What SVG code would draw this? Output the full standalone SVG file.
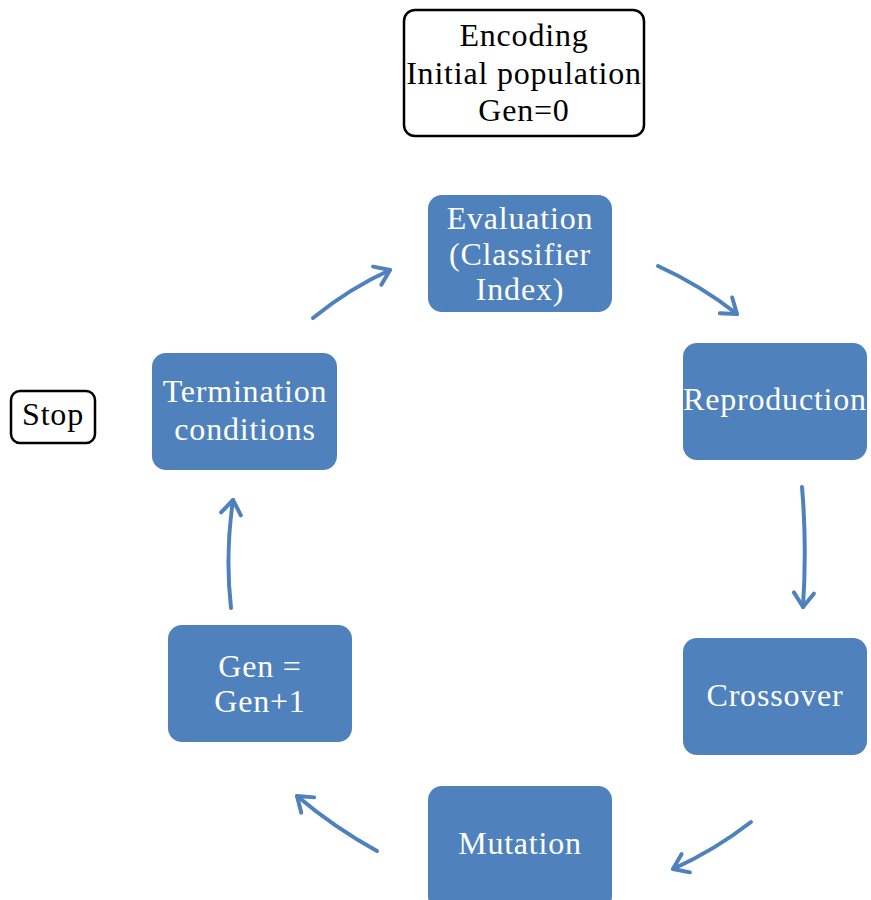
<svg xmlns="http://www.w3.org/2000/svg" width="871" height="900" viewBox="0 0 871 900">
<style>
.b{fill:#4f81bd;stroke:none}
.w{fill:#fff;stroke:#000;stroke-width:2.5}
.t{font-family:"Liberation Serif","Times New Roman",serif;font-size:32px;letter-spacing:0.8px;text-anchor:middle}
.tw{fill:#fff}
.tb{fill:#000}
.c{fill:none;stroke:#4f81bd;stroke-width:4;stroke-linecap:round;marker-end:url(#a)}
</style>
<defs>
<marker id="a" markerUnits="userSpaceOnUse" markerWidth="30" markerHeight="30" refX="20" refY="12" orient="auto" viewBox="0 0 30 24">
<path d="M6,2 L20,12 L6,22" fill="none" stroke="#4f81bd" stroke-width="4" stroke-linecap="round" stroke-linejoin="round"/>
</marker>
</defs>
<rect width="871" height="900" fill="#fff"/>
<g id="encoding"><rect class="w" x="404" y="10" width="240" height="126" rx="11"/>
<text class="t tb" x="524" y="46">Encoding</text><text class="t tb" x="524" y="84">Initial population</text><text class="t tb" x="524" y="121">Gen=0</text></g>
<g id="evaluation"><rect class="b" x="428" y="195" width="184" height="117" rx="14"/>
<text class="t tw" x="520" y="229">Evaluation</text><text class="t tw" x="520" y="265">(Classifier</text><text class="t tw" x="520" y="300">Index)</text></g>
<g id="reproduction"><rect class="b" x="683" y="343" width="184" height="117" rx="14"/>
<text class="t tw" x="775" y="410">Reproduction</text></g>
<g id="crossover"><rect class="b" x="683" y="638" width="184" height="117" rx="14"/>
<text class="t tw" x="775" y="706">Crossover</text></g>
<g id="mutation"><rect class="b" x="428" y="786" width="184" height="124" rx="14"/>
<text class="t tw" x="520" y="854">Mutation</text></g>
<g id="gen"><rect class="b" x="168" y="625" width="184" height="117" rx="14"/>
<text class="t tw" x="260" y="677">Gen =</text><text class="t tw" x="260" y="712">Gen+1</text></g>
<g id="termination"><rect class="b" x="152" y="353" width="185" height="117" rx="14"/>
<text class="t tw" x="245" y="402">Termination</text><text class="t tw" x="245" y="440">conditions</text></g>
<g id="stop"><rect class="w" x="11" y="391" width="84" height="52" rx="9"/>
<text class="t tb" x="53" y="425">Stop</text></g>
<g id="connectors">
<path class="c" d="M313,318 Q350,288 390,270"/>
<path class="c" d="M658,266 Q700,285 737,314"/>
<path class="c" d="M802,487 Q807,545 803,607"/>
<path class="c" d="M751,822 Q715,850 673,869"/>
<path class="c" d="M377,851 Q335,828 297,796"/>
<path class="c" d="M231,608 Q225,555 233,500"/>
</g>
</svg>
